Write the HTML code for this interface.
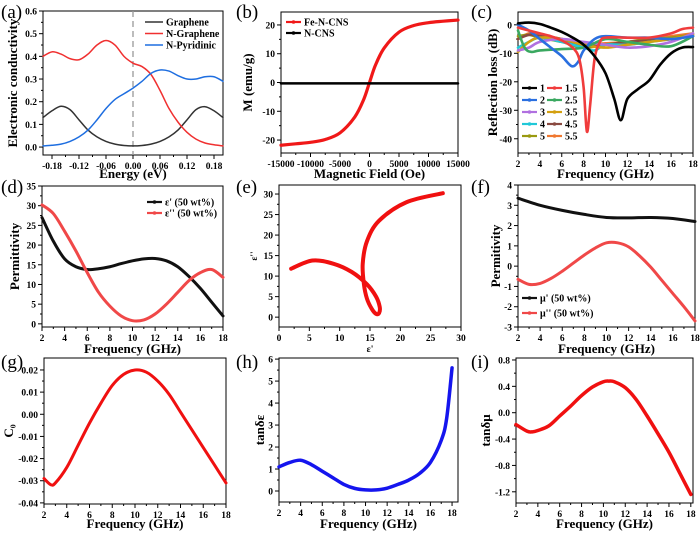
<!DOCTYPE html>
<html><head><meta charset="utf-8">
<style>
body{margin:0;background:#fff;}
svg{display:block;font-family:"Liberation Serif",serif;}
.tk{font-size:9.5px;font-weight:bold;fill:#000;}
.ti{font-size:13px;font-weight:bold;fill:#000;}
.pl{font-size:19px;fill:#000;}
.lg{font-size:10px;font-weight:bold;fill:#000;}
</style></head>
<body>
<svg id="fig" width="700" height="533" viewBox="0 0 700 533"></svg>
<script>
// ---- data (a)
const aEnergy=[-0.2,-0.18,-0.16,-0.14,-0.12,-0.10,-0.08,-0.06,-0.04,-0.02,0,0.02,0.04,0.06,0.08,0.10,0.12,0.14,0.16,0.18,0.20];
const aGraphene=[0.13,0.16,0.18,0.165,0.12,0.075,0.045,0.025,0.013,0.007,0.005,0.007,0.013,0.025,0.045,0.075,0.12,0.165,0.178,0.16,0.13];
const aNGraphene=[0.40,0.42,0.41,0.39,0.385,0.41,0.45,0.47,0.45,0.40,0.37,0.355,0.32,0.25,0.17,0.11,0.065,0.035,0.018,0.01,0.005];
const aNPyridinic=[0.005,0.008,0.013,0.025,0.045,0.075,0.12,0.17,0.21,0.235,0.26,0.29,0.325,0.34,0.335,0.315,0.30,0.30,0.31,0.31,0.29];
// ---- data (b)
const bField=[-15000,-12500,-10000,-7500,-5000,-2500,-1000,0,1000,2500,5000,7500,10000,12500,15000];
const bFeNCNS=[-21.8,-21.3,-20.8,-19.8,-17.5,-12,-6,0,6,12,17.5,19.8,20.8,21.3,21.7];
const bNCNS=[-0.3,-0.3,-0.3,-0.3,-0.3,-0.3,-0.3,-0.3,-0.3,-0.3,-0.3,-0.3,-0.3,-0.3,-0.3];
// ---- data (c)
const cNames=["1","1.5","2","2.5","3","3.5","4","4.5","5","5.5"];
const cColors=["#000000","#f03c3c","#2a6fe0","#3aa860","#b070e0","#d4a010","#20c8d8","#8a4a40","#9a9a10","#f07830"];
const cX=[
[2,3,4,5,6,7,8,9,10,10.8,11.4,12,13,14,15,16,17,18],
[2,3,4,5,6,7,7.6,8,8.3,8.6,9,9.5,10,12,14,16,17,18],
[2,3,4,5,6,6.9,7.5,8,9,10,12,14,16,18],
[2,2.6,3.2,4,6,8,10,12,14,16,18],
[2,3,4,6,8,10,12,14,16,18],
[2,3,4,6,8,10,12,14,16,18],
[2,3,4,6,8,9,10,12,14,16,18],
[2,3,4,6,8,10,12,14,16,18],
[2,3,4,6,8,10,12,14,16,18],
[2,3,4,6,8,10,12,14,16,18]];
const cY=[
[0.5,0.8,0.3,-1,-2.5,-4.5,-7,-11,-17,-26,-33.5,-26,-22.5,-19.5,-14,-10,-8,-7.8],
[-1,-2,-3,-4,-5.5,-8,-12,-22,-37.5,-28,-12,-6,-4.5,-4.5,-4.5,-3,-1.5,-1],
[0,-2,-5,-8,-11,-14.5,-13,-9,-5,-4,-4.5,-4.5,-5,-4],
[-2,-8,-9.5,-9,-8.5,-8,-5,-6,-7,-7.5,-4],
[-9,-8,-6,-5,-6,-7,-8,-7.5,-6,-3],
[-9.5,-6,-4.5,-5,-7,-8,-7,-6,-5,-3.5],
[-8,-6,-4.5,-6,-8,-9,-7,-7,-6,-5,-4],
[-5,-3.5,-4,-5,-7.5,-7,-6,-5.5,-5,-4],
[-4,-3.5,-4.5,-6,-8,-7,-6,-5,-4.5,-3.5],
[-5,-3,-3.5,-5,-7,-6.5,-6,-5,-4,-3]];
// ---- data (d)/(e)
const dFreq=[2,3,4,5,6,7,8,9,10,11,12,13,14,15,16,17,18];
const dEps1=[27,21,16.5,14.5,13.8,14,14.5,15.3,16,16.5,16.6,16,14.5,12,9,5.5,2];
const dEps2=[30.2,28,23.5,18.5,13,8,4.5,2,0.8,1,2.5,5,8,11,13,13.8,11.8];
// ---- data (f)
const fFreq1=[2,4,6,8,10,12,14,16,18];
const fMu1=[3.35,3.0,2.75,2.55,2.4,2.38,2.4,2.35,2.2];
const fFreq2=[2,3,4,5,6,7,8,9,10,11,12,13,14,15,16,17,18];
const fMu2=[-0.65,-0.9,-0.85,-0.6,-0.25,0.15,0.55,0.9,1.15,1.15,0.95,0.5,-0.05,-0.7,-1.35,-2.0,-2.7];
// ---- data (g)
const gFreq=[2,2.6,3,4,5,6,7,8,9,10,11,12,13,14,15,16,17,18];
const gC0=[-0.029,-0.0318,-0.031,-0.024,-0.014,-0.004,0.005,0.013,0.018,0.020,0.019,0.015,0.009,0.001,-0.007,-0.015,-0.023,-0.031];
// ---- data (h)
const hFreq=[2,3,4,5,6,7,8,9,10,11,12,13,14,15,16,17,17.5,18];
const hTanE=[1.1,1.3,1.4,1.2,0.9,0.6,0.3,0.12,0.05,0.05,0.13,0.3,0.5,0.8,1.3,2.3,3.3,5.6];
// ---- data (i)
const iFreq=[2,3,3.5,4,5,6,7,8,9,10,10.5,11,12,13,14,15,16,17,18];
const iTanM=[-0.18,-0.28,-0.29,-0.27,-0.2,-0.05,0.1,0.26,0.39,0.47,0.48,0.47,0.38,0.2,-0.05,-0.32,-0.6,-0.92,-1.24];
// tick labels
const aXTicks=[-0.18,-0.12,-0.06,0,0.06,0.12,0.18];
const aYTicks=[0,0.1,0.2,0.3,0.4,0.5,0.6];
const bXTicks=[-15000,-10000,-5000,0,5000,10000,15000];
const bYTicks=[-20,-10,0,10,20];
const cYTicks=[-40,-30,-20,-10,0];
const fqTicks=[2,4,6,8,10,12,14,16,18];
const dYTicks=[0,5,10,15,20,25,30,35];
const eTicks=[0,5,10,15,20,25,30];
const fYTicks=[-3,-2,-1,0,1,2,3,4];
const gYTicks=[-0.04,-0.03,-0.02,-0.01,0,0.01,0.02];
const hYTicks=[0,1,2,3,4,5,6];
const iYTicks=[-1.2,-0.8,-0.4,0,0.4,0.8];

const NS="http://www.w3.org/2000/svg";
const fig=document.getElementById('fig');
function mk(tag,attrs,parent){const e=document.createElementNS(NS,tag);for(const k in attrs)e.setAttribute(k,attrs[k]);(parent||fig).appendChild(e);return e;}
function txt(s,x,y,cls,anchor,parent){const t=mk('text',{x:x,y:y,class:cls,'text-anchor':anchor||'start'},parent);t.textContent=s;return t;}
function smooth(pts){
 if(pts.length<2)return'';
 let d='M'+pts[0][0].toFixed(2)+','+pts[0][1].toFixed(2);
 for(let i=0;i<pts.length-1;i++){
  const p0=pts[i-1]||pts[i],p1=pts[i],p2=pts[i+1],p3=pts[i+2]||p2;
  const c1=[p1[0]+(p2[0]-p0[0])/6,p1[1]+(p2[1]-p0[1])/6];
  const c2=[p2[0]-(p3[0]-p1[0])/6,p2[1]-(p3[1]-p1[1])/6];
  d+='C'+c1[0].toFixed(2)+','+c1[1].toFixed(2)+' '+c2[0].toFixed(2)+','+c2[1].toFixed(2)+' '+p2[0].toFixed(2)+','+p2[1].toFixed(2);
 }
 return d;
}
function panel(c){
 const g=mk('g',{});
 
 
 const sx=v=>c.x0+(v-c.xmin)/(c.xmax-c.xmin)*(c.x1-c.x0);
 const sy=v=>c.y1-(v-c.ymin)/(c.ymax-c.ymin)*(c.y1-c.y0);
 const frame=mk('rect',{x:c.x0,y:c.y0,width:c.x1-c.x0,height:c.y1-c.y0,fill:'none',stroke:'#000','stroke-width':1},g);
 
 
 const xt=mk('g',{},g);
 
 
 c.xticks.forEach((v,i)=>{const x=sx(v);mk('line',{x1:x,x2:x,y1:c.y1,y2:c.y1+4,stroke:'#000'},xt);
  if(i<c.xticks.length-1){const xm=(x+sx(c.xticks[i+1]))/2;mk('line',{x1:xm,x2:xm,y1:c.y1,y2:c.y1+2,stroke:'#000'},xt);}
  txt(c.xfmt(v),x,c.y1+14,'tk','middle',xt);});
 const yt=mk('g',{},g);
 
 
 c.yticks.forEach((v,i)=>{const y=sy(v);mk('line',{x1:c.x0-4,x2:c.x0,y1:y,y2:y,stroke:'#000'},yt);
  if(i<c.yticks.length-1){const ym=(y+sy(c.yticks[i+1]))/2;mk('line',{x1:c.x0-2,x2:c.x0,y1:ym,y2:ym,stroke:'#000'},yt);}
  txt(c.yfmt(v),c.x0-6,y+3.5,'tk','end',yt);});
 const xl=txt(c.xtitle,(c.x0+c.x1)/2,c.xty,c.xtcls||'ti','middle',g);
 
 
 const yl=txt(c.ytitle,0,0,c.ytcls||'ti','middle',g);
 yl.setAttribute('transform','translate('+c.ytx+','+((c.y0+c.y1)/2)+') rotate(-90)');
 
 
 const pl=txt(c.label,c.lx,c.ly,'pl','start',g);
 
 
 return {g,sx,sy};
}
function series(P,xs,ys,color,w,name,dots){
 const pts=xs.map((x,i)=>[P.sx(x),P.sy(ys[i])]);
 const p=mk('path',{d:smooth(pts),fill:'none',stroke:color,'stroke-width':w,'stroke-linejoin':'round','stroke-linecap':'round'},P.g);
 
 
 if(dots){pts.forEach(q=>{const c=mk('circle',{cx:q[0],cy:q[1],r:dots,fill:color},P.g);
  
  });}
 return p;
}
function legend(P,x,y,color,label,name){
 const lg=mk('g',{},P.g);
 
 
 mk('line',{x1:x,x2:x+15,y1:y,y2:y,stroke:color,'stroke-width':2.2},lg);
 mk('circle',{cx:x+7.5,cy:y,r:1.8,fill:color},lg);
 txt(label,x+18,y+3.5,'lg','start',lg);
}
const f2=v=>v.toFixed(2), f1=v=>v.toFixed(1), f0=v=>String(v);
const fq={xmin:2,xmax:18,xticks:fqTicks,xfmt:f0,xtitle:'Frequency (GHz)'};

// (a)
const A=panel({name:'panel-a-conductivity',x0:43,x1:223,y0:11,y1:155,xmin:-0.2,xmax:0.2,ymin:-0.035,ymax:0.6,xticks:aXTicks,yticks:aYTicks,xfmt:f2,yfmt:f1,xtitle:'Energy (eV)',xty:178,ytitle:'Electronic conductivity',ytx:17,label:'(a)',lx:1,ly:18});
const dl=mk('line',{x1:A.sx(0),x2:A.sx(0),y1:11,y2:155,stroke:'#999','stroke-dasharray':'6,4','stroke-width':1.3},A.g);


series(A,aEnergy,aGraphene,'#333',1.5,'graphene-line');
series(A,aEnergy,aNGraphene,'#f03030',1.5,'n-graphene-line');
series(A,aEnergy,aNPyridinic,'#1e6ee0',1.5,'n-pyridinic-line');
[[aGraphene,'#333','Graphene'],[aNGraphene,'#f03030','N-Graphene'],[aNPyridinic,'#1e6ee0','N-Pyridinic']].forEach((s,i)=>{
 const lg=mk('g',{},A.g);
 
 
 mk('line',{x1:145,x2:163,y1:22+i*11.5,y2:22+i*11.5,stroke:s[1],'stroke-width':1.5},lg);
 txt(s[2],166,25.5+i*11.5,'lg','start',lg);});

// (b)
const B=panel({name:'panel-b-magnetization',x0:281,x1:458,y0:12,y1:153,xmin:-15000,xmax:15000,ymin:-24.5,ymax:24.5,xticks:bXTicks,yticks:bYTicks,xfmt:f0,yfmt:f0,xtitle:'Magnetic Field (Oe)',xty:178,ytitle:'M (emu/g)',ytx:252,label:'(b)',lx:236,ly:18});
series(B,bField,bFeNCNS,'#f01818',3.2,'fe-n-cns-line');
series(B,bField,bNCNS,'#000',2.5,'n-cns-line');
legend(B,286,22,'#f01818','Fe-N-CNS','legend-fe-n-cns');
legend(B,286,33,'#000','N-CNS','legend-n-cns');

// (c)
const C=panel(Object.assign({name:'panel-c-reflection-loss',x0:518,x1:693,y0:12,y1:153,ymin:-45,ymax:4.5,yticks:cYTicks,yfmt:f0,xty:178,ytitle:'Reflection loss (dB)',ytx:497,label:'(c)',lx:471,ly:18},fq));
for(let k=cNames.length-1;k>=0;k--){series(C,cX[k],cY[k],cColors[k],2.6,'rl-line-'+cNames[k]);}
cNames.forEach((n,k)=>{const col=k%2,row=Math.floor(k/2);legend(C,col?547:522,88+row*12,cColors[k],n,'legend-rl-'+n);});

// (d)
const D=panel(Object.assign({name:'panel-d-permittivity',x0:42,x1:223,y0:186,y1:327,ymin:-0.8,ymax:35,yticks:dYTicks,yfmt:f0,xty:353,ytitle:'Permittivity',ytx:19,label:'(d)',lx:1,ly:193},fq));
series(D,dFreq,dEps1,'#111',3,'eps-real-line');
series(D,dFreq,dEps2,'#f04848',3,'eps-imag-line');
legend(D,147,202,'#111',"ε' (50 wt%)",'legend-eps-real');
legend(D,147,213,'#f04848',"ε'' (50 wt%)",'legend-eps-imag');

// (e)
const E=panel({name:'panel-e-cole-cole',x0:279,x1:461,y0:185,y1:327,xmin:0,xmax:30,ymin:-2.4,ymax:32.2,xticks:eTicks,yticks:eTicks,xfmt:f0,yfmt:f0,xtitle:"ε'",xty:352,xtcls:'tk',ytitle:"ε''",ytx:257,ytcls:'tk',label:'(e)',lx:236,ly:193});
series(E,dEps1,dEps2,'#f01010',4,'cole-cole-curve');

// (f)
const F=panel(Object.assign({name:'panel-f-permeability',x0:518,x1:695,y0:185,y1:327,ymin:-3,ymax:4,yticks:fYTicks,yfmt:f0,xty:353,ytitle:'Permitivity',ytx:500,label:'(f)',lx:471,ly:193},fq));
series(F,fFreq1,fMu1,'#111',3,'mu-real-line');
series(F,fFreq2,fMu2,'#f04848',3,'mu-imag-line');
legend(F,522,298,'#111',"μ' (50 wt%)",'legend-mu-real');
legend(F,522,313,'#f04848',"μ'' (50 wt%)",'legend-mu-imag');

// (g)
const G=panel(Object.assign({name:'panel-g-c0',x0:44,x1:226,y0:358,y1:504,ymin:-0.0405,ymax:0.0254,yticks:gYTicks,yfmt:f2,xty:528,ytitle:'C₀',ytx:13,label:'(g)',lx:1,ly:368},fq));
series(G,gFreq,gC0,'#f01010',3,'c0-line');

// (h)
const H=panel(Object.assign({name:'panel-h-tan-delta-e',x0:279,x1:458,y0:358,y1:502,ymin:-0.5,ymax:6.05,yticks:hYTicks,yfmt:f0,xty:528,ytitle:'tanδε',ytx:264,label:'(h)',lx:236,ly:368},fq,{xmax:18.55}));
series(H,hFreq,hTanE,'#1515ee',3.5,'tan-delta-e-line');

// (i)
const I=panel(Object.assign({name:'panel-i-tan-delta-m',x0:516,x1:693,y0:358,y1:503,ymin:-1.37,ymax:0.83,yticks:iYTicks,yfmt:f1,xty:528,ytitle:'tanδμ',ytx:490,label:'(i)',lx:471,ly:368},fq,{xmax:18.2}));
series(I,iFreq,iTanM,'#f01010',3.5,'tan-delta-m-line');
</script>
</body></html>
